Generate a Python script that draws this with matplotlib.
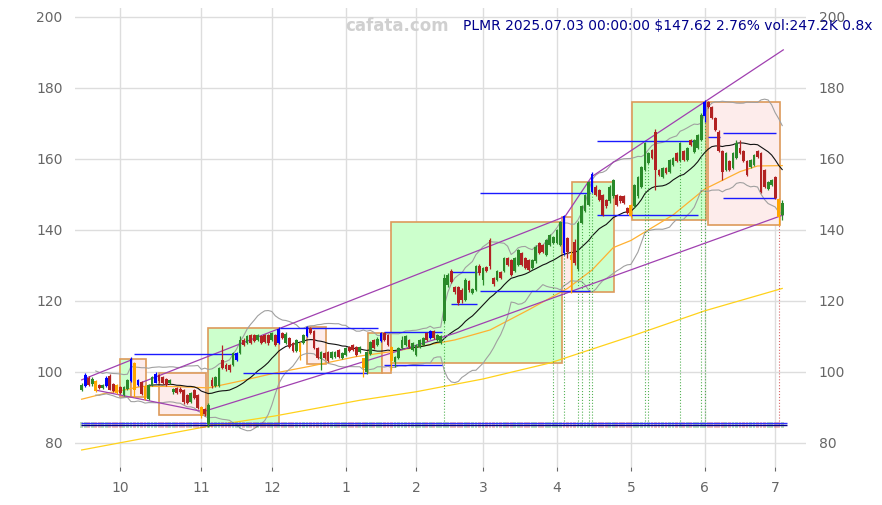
import numpy as np
import pandas as pd
import matplotlib
matplotlib.use("Agg")
from matplotlib import pyplot as plt
from matplotlib.patches import Rectangle

# daily candles, 2024-09-16 .. 2025-07-03 (trading days)
opens = [94.9, 96.0, 98.2, 96.5, 97.3, 96.3, 95.5, 96.0, 98.8, 96.5,
         96.2, 95.8, 93.6, 95.2, 97.5, 102.6, 96.3, 97.2, 96.0, 92.3,
         96.3, 97.0, 99.0, 98.6, 98.0, 96.8, 94.2, 95.4, 95.3, 95.0,
         93.5, 91.6, 94.9, 93.4, 90.0, 89.5, 85.2, 97.7, 96.0, 96.0,
         103.4, 102.0, 101.8, 102.0, 103.4, 105.3, 109.0, 108.1, 110.4, 110.3,
         109.0, 110.0, 110.4, 110.4, 109.0, 110.4, 108.1, 111.0, 108.2, 109.5,
         108.0, 105.8, 108.0, 108.1, 110.0, 112.3, 111.4, 106.7, 103.5, 105.3,
         105.7, 103.9, 104.3, 106.2, 103.9, 104.8, 107.1, 107.6, 107.1, 105.7,
         103.8, 100.0, 105.0, 109.0, 107.6, 108.6, 110.9, 110.4, 107.0, 102.9,
         104.0, 106.7, 107.6, 109.0, 106.2, 104.8, 107.1, 107.6, 110.9, 109.5,
         111.4, 109.0, 108.1, 114.2, 124.5, 128.3, 123.8, 123.8, 123.1, 120.3,
         125.5, 122.2, 123.1, 129.7, 126.0, 129.6, 137.2, 126.4, 125.9, 128.0,
         128.3, 132.0, 131.5, 128.3, 130.1, 133.4, 132.0, 131.5, 129.2, 131.1,
         136.2, 135.8, 133.0, 135.8, 136.2, 136.2, 135.8, 143.8, 137.7, 133.0,
         136.5, 129.0, 141.9, 145.2, 147.0, 150.8, 152.2, 151.3, 149.9, 148.5,
         148.0, 149.4, 149.9, 149.4, 149.4, 146.1, 147.0, 146.6, 149.4, 152.2,
         156.9, 158.8, 162.5, 167.7, 156.9, 155.0, 157.4, 156.4, 158.3, 161.6,
         159.3, 162.1, 159.7, 165.4, 161.9, 163.0, 165.4, 172.0, 176.1, 174.7,
         171.5, 167.7, 162.1, 156.9, 159.3, 157.4, 160.2, 163.0, 162.1, 159.3,
         157.8, 158.3, 162.1, 161.6, 156.9, 151.5, 152.7, 155.0, 148.7, 144.2]
highs = [96.8, 99.6, 98.8, 98.5, 97.6, 96.6, 96.6, 98.8, 99.3, 96.9,
         96.5, 96.1, 96.0, 98.0, 104.2, 102.9, 98.0, 97.5, 96.3, 96.5,
         98.8, 100.0, 99.3, 98.9, 98.2, 97.9, 95.5, 95.7, 95.6, 95.2,
         93.8, 94.2, 95.2, 93.8, 90.3, 89.8, 91.2, 98.5, 98.8, 101.5,
         107.6, 102.4, 102.2, 105.6, 105.6, 110.0, 109.5, 110.3, 110.8, 110.6,
         110.7, 110.4, 110.8, 110.7, 111.3, 110.8, 112.6, 111.3, 111.2, 109.8,
         108.3, 109.3, 108.3, 110.7, 113.0, 112.6, 111.7, 107.0, 105.9, 105.6,
         106.0, 106.0, 106.0, 106.5, 105.6, 107.0, 107.4, 107.9, 107.4, 107.4,
         104.0, 106.0, 108.8, 109.3, 109.7, 111.3, 111.2, 110.7, 107.3, 104.6,
         107.0, 110.0, 110.3, 109.3, 108.4, 107.9, 109.3, 109.8, 111.2, 111.7,
         111.7, 110.7, 110.3, 127.5, 127.8, 129.0, 124.3, 124.2, 123.5, 126.5,
         125.9, 123.6, 130.2, 130.3, 129.5, 129.9, 137.6, 126.8, 128.6, 128.3,
         132.3, 132.3, 131.8, 132.3, 134.7, 133.7, 132.3, 131.8, 131.8, 135.6,
         136.5, 136.1, 137.5, 138.9, 138.4, 140.3, 142.6, 144.3, 138.0, 134.0,
         137.5, 142.5, 146.9, 150.2, 153.9, 156.3, 152.5, 151.6, 150.2, 148.8,
         152.5, 154.3, 150.2, 149.7, 149.7, 146.4, 147.3, 153.0, 155.3, 158.1,
         164.7, 161.9, 162.8, 168.3, 157.2, 157.7, 157.7, 160.0, 160.5, 161.9,
         164.7, 162.4, 163.3, 165.7, 165.5, 167.1, 172.8, 176.6, 176.4, 175.0,
         171.8, 168.0, 162.4, 161.9, 159.6, 161.9, 165.3, 165.3, 162.4, 159.6,
         160.0, 161.4, 162.4, 161.9, 157.2, 153.7, 154.3, 155.3, 149.0, 148.3]
lows = [94.6, 95.8, 96.0, 95.9, 94.3, 95.2, 95.2, 95.8, 94.8, 94.3,
        93.7, 93.8, 93.2, 94.9, 97.2, 93.0, 96.0, 93.5, 92.0, 92.0,
        96.0, 96.8, 97.0, 96.5, 96.0, 96.6, 93.9, 93.8, 94.1, 91.0,
        91.0, 91.3, 92.4, 89.5, 87.0, 87.7, 84.6, 95.5, 95.6, 95.7,
        100.8, 100.3, 100.1, 101.7, 103.1, 105.0, 107.3, 107.8, 107.8, 108.3,
        108.7, 107.8, 108.2, 107.7, 108.7, 107.3, 107.8, 109.2, 107.9, 106.8,
        105.5, 105.5, 103.3, 107.8, 109.7, 110.7, 106.5, 103.6, 100.6, 103.6,
        102.7, 103.6, 104.0, 104.0, 103.6, 104.5, 105.5, 105.9, 104.5, 105.4,
        98.6, 99.3, 104.7, 106.5, 107.3, 108.3, 108.7, 107.3, 100.5, 101.5,
        103.7, 106.4, 107.3, 106.8, 105.9, 104.5, 106.8, 107.3, 108.7, 109.2,
        109.2, 108.7, 107.8, 113.9, 124.0, 125.0, 122.0, 118.8, 119.5, 120.0,
        122.6, 121.9, 122.8, 127.4, 124.5, 128.1, 129.0, 124.2, 125.6, 126.2,
        128.0, 129.8, 127.0, 128.0, 129.8, 129.8, 128.9, 128.4, 128.9, 130.8,
        133.1, 133.6, 132.7, 135.5, 135.9, 135.9, 135.5, 133.0, 132.0, 122.2,
        130.0, 128.5, 141.6, 144.9, 146.7, 150.5, 149.6, 148.2, 143.9, 146.3,
        147.7, 149.1, 146.7, 147.7, 147.2, 144.4, 143.5, 146.3, 149.1, 151.9,
        156.6, 158.5, 159.9, 151.3, 155.2, 154.7, 155.7, 156.1, 158.0, 159.0,
        159.0, 159.4, 159.4, 163.7, 161.6, 162.7, 165.1, 170.5, 174.4, 171.2,
        167.9, 161.8, 154.0, 156.6, 156.6, 157.1, 159.9, 161.3, 159.0, 155.2,
        157.5, 158.0, 160.3, 150.5, 151.9, 151.2, 152.4, 148.7, 141.4, 142.8]
closes = [96.3, 99.0, 96.4, 98.0, 94.6, 95.5, 96.3, 98.3, 95.0, 94.6,
          94.0, 94.0, 95.6, 97.6, 103.5, 94.8, 97.7, 93.8, 92.5, 96.2,
          98.5, 99.5, 97.4, 96.8, 96.4, 97.6, 95.2, 94.0, 94.4, 91.5,
          91.3, 94.0, 92.7, 89.9, 87.5, 88.0, 90.6, 95.9, 98.5, 101.0,
          101.1, 100.7, 100.5, 105.2, 105.3, 109.0, 107.7, 110.0, 108.2, 108.6,
          110.4, 108.1, 108.5, 108.0, 110.9, 107.6, 112.1, 109.5, 110.8, 107.1,
          105.8, 109.0, 105.5, 110.4, 112.7, 111.0, 106.8, 104.0, 105.6, 103.9,
          103.0, 105.7, 105.7, 104.3, 105.3, 106.6, 105.8, 106.2, 104.8, 107.1,
          101.0, 105.5, 108.4, 106.8, 109.4, 110.9, 109.0, 107.6, 103.0, 104.3,
          106.7, 109.0, 110.0, 107.1, 108.1, 107.6, 109.0, 109.5, 109.0, 111.4,
          109.5, 110.4, 110.0, 126.5, 127.3, 125.4, 122.6, 119.3, 120.3, 125.9,
          123.0, 123.3, 129.7, 127.8, 129.2, 128.4, 129.7, 124.7, 128.3, 126.5,
          132.0, 130.1, 127.3, 132.0, 134.4, 130.1, 129.2, 128.7, 131.5, 135.3,
          133.4, 133.9, 137.2, 138.6, 138.1, 140.0, 142.3, 133.5, 133.9, 131.5,
          130.8, 141.9, 146.6, 149.9, 153.6, 155.8, 149.9, 148.5, 144.2, 146.6,
          152.2, 154.0, 147.0, 148.0, 147.5, 144.7, 143.8, 152.7, 155.0, 157.8,
          164.4, 161.6, 160.2, 156.9, 155.5, 157.4, 156.0, 159.7, 160.2, 159.3,
          164.4, 159.7, 163.0, 164.0, 165.2, 166.8, 172.4, 176.0, 174.7, 171.5,
          168.2, 162.1, 156.4, 161.6, 156.9, 161.6, 164.4, 161.6, 159.3, 155.5,
          159.7, 161.1, 160.6, 150.8, 152.2, 153.4, 154.0, 149.0, 143.65, 147.62]

blue_days = [1, 7, 14, 16, 21, 44, 56, 64, 85, 99, 137, 145, 177]
orange_days = [4, 10, 15, 18, 34, 62, 80, 88, 139, 156, 198]
signal_days = [103, 134, 137, 141, 142, 144, 145, 160, 161, 170, 176, 177]
sell_days = [198]

holidays = ['2024-11-28', '2024-12-25', '2025-01-01', '2025-01-09', '2025-01-20',
            '2025-02-17', '2025-04-18', '2025-05-26', '2025-06-19']

# slow averages (index, value)
ma_orange_idx = [0, 6, 12, 17, 25, 36, 45, 55, 65, 78, 90, 106, 116, 127, 138, 145, 151, 156, 168, 177, 187, 192, 199]
ma_orange_val = [92.3, 93.8, 94.9, 95.9, 95.9, 95.5, 97.4, 99.7, 101.6, 104.3, 106.0, 109.0, 111.8, 117.5,
                 123.5, 128.7, 135.0, 137.0, 144.2, 151.5, 156.4, 158.0, 158.1]
ma_yellow_idx = [0, 35, 55, 79, 95, 114, 133, 156, 177, 199]
ma_yellow_val = [78.0, 84.5, 87.6, 92.0, 94.4, 98.0, 102.5, 110.0, 117.2, 123.5]

# range boxes: start, end, low, high, kind
box_start = [10.9, 14.0, 22.0, 36.0, 64.0, 81.3, 85.2, 88.0, 136.4, 139.2, 156.3, 177.8]
box_end = [14.0, 18.2, 35.2, 56.1, 69.3, 85.2, 88.0, 136.4, 139.2, 151.2, 177.4, 198.4]
box_low = [92.9, 92.9, 87.9, 85.1, 102.2, 99.6, 99.6, 102.4, 122.6, 122.5, 142.8, 141.4]
box_high = [103.6, 103.6, 99.6, 112.3, 112.6, 110.9, 110.9, 142.3, 143.7, 153.6, 176.0, 176.0]
box_kind = ['up', 'down', 'down', 'up', 'down', 'up', 'down', 'up', 'down', 'up', 'up', 'down']

# support / resistance segments
lvl_start = [14.9, 45.8, 56.3, 86.0, 86.0, 105.0, 105.0, 113.2, 113.2, 146.3, 146.3, 178.0, 182.2, 182.2]
lvl_end = [44.0, 81.0, 84.2, 102.3, 102.3, 112.2, 112.2, 144.4, 144.4, 175.1, 175.1, 181.3, 197.3, 197.3]
lvl_price = [105.0, 99.6, 112.3, 111.1, 102.0, 128.2, 119.1, 122.8, 150.5, 144.2, 165.0, 166.1, 167.2, 148.9]

# trend lines
trend_lines = [
    ([0.0, 14.2], [97.75, 103.4]),
    ([3.8, 34.5], [94.9, 88.8]),
    ([17.0, 137.3, 144.9, 199.3], [97.0, 143.75, 155.0, 190.7]),
    ([34.5, 106.1, 199.3], [88.8, 110.9, 144.2]),
]

n = len(closes)
x = np.arange(n)
o = np.array(opens)
h = np.array(highs)
l = np.array(lows)
c = np.array(closes)

colors = []
for i in range(n):
    if i in blue_days:
        colors.append('#0000ff')
    elif i in orange_days:
        colors.append('#ffa500')
    elif c[i] >= o[i]:
        colors.append('#2a8a2a')
    else:
        colors.append('#b22222')

s = pd.Series(c)
ma20 = s.rolling(20).mean()
mid = s.rolling(20, min_periods=5).mean()
sd = s.rolling(20, min_periods=5).std()

fig = plt.figure(figsize=(8.82, 5.05), dpi=100)
ax = fig.add_axes([0.085, 0.0752, 0.829, 0.909])
for sp in ax.spines.values():
    sp.set_visible(False)
ax.set_axisbelow(True)
ax.grid(color='#dddddd', lw=1)

for i in range(len(box_start)):
    fc = '#ccffcc' if box_kind[i] == 'up' else '#fdeceb'
    ax.add_patch(Rectangle((box_start[i], box_low[i]), box_end[i] - box_start[i],
                           box_high[i] - box_low[i], facecolor=fc,
                           edgecolor='#dd9a5a', lw=1.2, zorder=1))

ax.plot(ma_yellow_idx, ma_yellow_val, color='#ffd21a', lw=0.9, zorder=2)
ax.plot(ma_orange_idx, ma_orange_val, color='#ffb030', lw=0.9, zorder=2)
ax.plot(x, mid + 2 * sd, color='#a0a0a0', lw=0.8, zorder=2)
ax.plot(x, mid - 2 * sd, color='#a0a0a0', lw=0.8, zorder=2)
ax.plot(x, ma20, color='#111111', lw=0.8, zorder=2)

for xs, ys in trend_lines:
    ax.plot(xs, ys, color='#a040b0', lw=0.9, zorder=3)

ax.hlines(lvl_price, lvl_start, lvl_end, colors='#1a1aff', lw=1.0, zorder=3)

# signal markers down to the volume strip
for d in signal_days:
    ax.vlines(d, 85.3, l[d], colors='#2ca02c', linestyles=':', lw=0.8, alpha=0.8, zorder=2)
for d in sell_days:
    ax.vlines(d, 85.3, l[d], colors='#d04040', linestyles=':', lw=0.8, alpha=0.8, zorder=2)

# flat volume strip
vcol = ['#2a8a2a' if c[i] >= o[i] else '#c03030' for i in range(n)]
ax.bar(x, 1.5, bottom=84.3, width=0.8, color=vcol, alpha=0.3, zorder=2)
ax.hlines([85.5, 85.05], -0.3, n + 0.4, colors=['#3030ff', '#000080'], lw=1.0, zorder=3)

# candles
ax.vlines(x, l, h, colors=colors, lw=0.9, zorder=4)
body = np.abs(c - o)
body = np.where(body < 0.15, 0.15, body)
ax.bar(x, body, bottom=np.minimum(o, c), width=0.78, color=colors, zorder=4)

days = pd.bdate_range('2024-09-16', '2025-07-03', freq='C', holidays=holidays)
tick_pos = [i for i in range(1, len(days)) if days[i].month != days[i - 1].month]
ax.set_xticks(tick_pos)
ax.set_xticklabels([str(days[i].month) for i in tick_pos])
ax.set_yticks(np.arange(80, 201, 20))
ax.set_xlim(-1.9, 205.8)
ax.set_ylim(73.2, 202.5)
ax.tick_params(axis='x', colors='#666666', labelsize=10, length=3, pad=7)
ax.tick_params(axis='y', colors='#666666', labelsize=10, length=0, pad=9,
               labelright=True)

fig.text(0.45, 0.949, 'cafata.com', color='#d0d0d0', fontsize=12, fontweight='bold',
         ha='center', va='center')
fig.text(0.989, 0.949, 'PLMR 2025.07.03 00:00:00 $147.62 2.76% vol:247.2K 0.8x',
         color='#00008b', fontsize=10, ha='right', va='center')

fig.savefig('out.png', dpi=100)
